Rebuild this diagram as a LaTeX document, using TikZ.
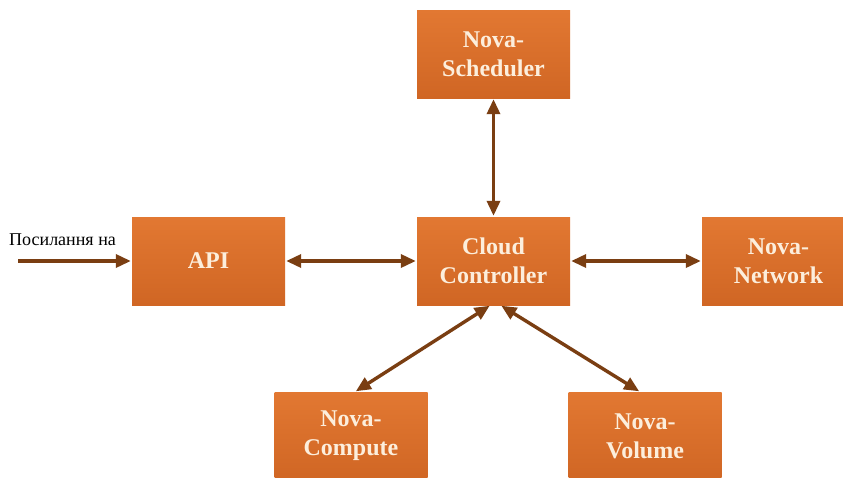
\documentclass[tikz,border=0pt]{standalone}
\usepackage{fontspec}
\setmainfont{Liberation Serif}
\usetikzlibrary{arrows.meta}
\definecolor{boxfill}{RGB}{226,120,50}
\definecolor{boxdark}{RGB}{208,102,36}
\definecolor{arrowc}{RGB}{122,62,18}
\definecolor{txtc}{RGB}{252,238,220}
\tikzset{
  box/.style={rectangle, minimum width=153pt, minimum height=88pt, inner sep=0pt,
    top color=boxfill, bottom color=boxdark, draw=none,
    font=\fontsize{24}{29}\selectfont\bfseries, text=txtc, align=center},
  tip/.style={Triangle[length=15pt,width=13pt]},
  conn/.style={draw=arrowc, line width=3.4pt, {Triangle[length=15pt,width=13pt]}-{Triangle[length=15pt,width=13pt]}, shorten <=1pt, shorten >=1pt},
  inconn/.style={draw=arrowc, line width=3.4pt, -{Triangle[length=15pt,width=13pt]}, shorten >=1pt}
}
\begin{document}
\begin{tikzpicture}[x=1pt,y=-1pt]
\useasboundingbox (0,0) rectangle (843,477);
\fill[white] (0,0) rectangle (843,477);
\node[box] (sch) at (493.5,54) {Nova-\\Scheduler};
\node[box] (api) at (208.5,261) {API};
\node[box] (cc) at (493.5,261) {Cloud\\Controller};
\node[box] (net) at (778.5,261) {Nova-\\Network};
\node[box] (cmp) at (351,436) {Nova-\\Compute};
\node[box] (vol) at (645,436) {Nova-\\Volume};
\coordinate (in) at (18,261);
\node[anchor=south west, inner sep=0pt, font=\fontsize{18}{20}\selectfont] (lbl) at (9,246) {Посилання на};
\draw[inconn] (in) -- (api.west);
\draw[conn] (sch.south) -- (cc.north);
\draw[conn] (api.east) -- (cc.west);
\draw[conn] (cc.east) -- (net.west);
\coordinate (ccl) at ([xshift=-3pt]cc.south);
\coordinate (ccr) at ([xshift=7pt]cc.south);
\coordinate (cmpt) at ([xshift=4pt]cmp.north);
\coordinate (volt) at ([xshift=-5pt]vol.north);
\draw[conn] (ccl) -- (cmpt);
\draw[conn] (ccr) -- (volt);
\end{tikzpicture}
\end{document}
